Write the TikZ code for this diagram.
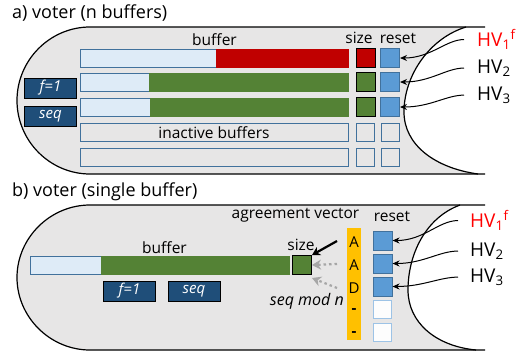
\documentclass[tikz,border=0pt]{standalone}
\usepackage{fontspec}
\setmainfont{Open Sans}
\usetikzlibrary{arrows.meta}
\definecolor{capgray}{HTML}{E7E6E6}
\definecolor{bufblue}{HTML}{DEEBF7}
\definecolor{edgeblue}{HTML}{41719C}
\definecolor{resetblue}{HTML}{5B9BD5}
\definecolor{paleblue}{HTML}{9DC3E6}
\definecolor{tagblue}{HTML}{1F4E79}
\definecolor{fullred}{HTML}{C00000}
\definecolor{hvred}{HTML}{FF0000}
\definecolor{fullgreen}{HTML}{548235}
\definecolor{agreeorange}{HTML}{FFC000}
\tikzset{
	bar/.style={draw=edgeblue, fill=bufblue, line width=1pt, minimum width=268pt, minimum height=18pt, inner sep=0pt, font=\fontsize{15.5}{15.5}\selectfont},
	idlebar/.style={bar, fill=capgray},
	sizebox/.style={draw=black, line width=1pt, minimum size=19pt, inner sep=0pt},
	resetbox/.style={draw=edgeblue, fill=resetblue, line width=1pt, minimum size=19pt, inner sep=0pt},
	idlebox/.style={draw=edgeblue, fill=capgray, line width=1pt, minimum size=18pt, inner sep=0pt},
	tagbox/.style={draw=black, fill=tagblue, text=white, line width=1pt, minimum width=52pt, minimum height=20pt, inner sep=0pt, font=\itshape\fontsize{15}{15}\selectfont},
	lbl/.style={inner sep=0pt, anchor=base, font=\fontsize{15.5}{15.5}\selectfont},
	hv/.style={inner sep=0pt, anchor=base west, font=\fontsize{19}{19}\selectfont},
	hvarrow/.style={-{Stealth[length=7pt,width=6pt]}, line width=1pt, shorten <=13pt},
}
\begin{document}
\begin{tikzpicture}[x=1pt, y=-1pt]
	\useasboundingbox (0,0) rectangle (526,356);
	% a) voter (n buffers)
	\node[inner sep=0pt, anchor=base west, font=\fontsize{18}{18}\selectfont] (titlea) at (12,18.5) {a) voter (n buffers)};
	\fill[capgray] (485,27) -- (90,27) .. controls (50,27) and (17,60) .. (17,100.5) .. controls (17,141) and (50,174) .. (90,174) -- (485,174) -- cycle;
	\fill[white] (466,27) .. controls (430,38) and (404,75) .. (404,112) .. controls (404,145) and (435,168) .. (478,174) -- (490,174) -- (490,27) -- cycle;
	\draw[line width=1.2pt] (485,27) -- (90,27) .. controls (50,27) and (17,60) .. (17,100.5) .. controls (17,141) and (50,174) .. (90,174) -- (485,174);
	\draw[line width=1.2pt] (466,27) .. controls (430,38) and (404,75) .. (404,112) .. controls (404,145) and (435,168) .. (478,174);

	\node[bar] (a1) at (214,58) {};
	\node[bar] (a2) at (214,82) {};
	\node[bar] (a3) at (214,107) {};
	\node[idlebar] (a4) at (214,132.5) {inactive buffers};
	\node[idlebar] (a5) at (214,157) {};
	\fill[fullred] (216,0 |- a1.north) rectangle (a1.south east);
	\fill[fullgreen] (149,0 |- a2.north) rectangle (a2.south east);
	\fill[fullgreen] (150,0 |- a3.north) rectangle (a3.south east);
	\node[lbl] (bufa) at (214.5,45.5) {buffer};

	\node[sizebox, fill=fullred] (sa1) at (365.5,58) {};
	\node[sizebox, fill=fullgreen] (sa2) at (365.5,82) {};
	\node[sizebox, fill=fullgreen] (sa3) at (365.5,107) {};
	\node[idlebox] (sa4) at (365.5,132.5) {};
	\node[idlebox] (sa5) at (365.5,157) {};
	\node[resetbox] (ra1) at (390,58) {};
	\node[resetbox] (ra2) at (390,82) {};
	\node[resetbox] (ra3) at (390,107) {};
	\node[idlebox] (ra4) at (390,132.5) {};
	\node[idlebox] (ra5) at (390,157) {};
	\node[lbl] (sizea) at (359,43) {size};
	\node[lbl] (reseta) at (398,43) {reset};

	\node[tagbox] (fa) at (50.5,88) {f=1};
	\node[tagbox] (seqa) at (50.5,116) {seq};

	\node[hv, text=hvred] (hva1) at (477,46) {HV\textsubscript{1}\textsuperscript{f}};
	\node[hv] (hva2) at (477,73) {HV\textsubscript{2}};
	\node[hv] (hva3) at (477,100) {HV\textsubscript{3}};
	\draw[hvarrow] (hva1.west) to[out=180, in=0] (ra1.east);
	\draw[hvarrow] (hva2.west) to[out=180, in=0] (ra2.east);
	\draw[hvarrow] (hva3.west) to[out=180, in=0] (ra3.east);

	% b) voter (single buffer)
	\node[inner sep=0pt, anchor=base west, font=\fontsize{18}{18}\selectfont] (titleb) at (12,196) {b) voter (single buffer)};
	\fill[capgray] (485,205) -- (90,205) .. controls (50,205) and (17,238) .. (17,277.5) .. controls (17,317) and (50,350) .. (90,350) -- (485,350) -- cycle;
	\fill[white] (460,205) .. controls (425,218) and (408,255) .. (408,290) .. controls (408,322) and (435,346) .. (476,350) -- (490,350) -- (490,205) -- cycle;
	\draw[line width=1.2pt] (485,205) -- (90,205) .. controls (50,205) and (17,238) .. (17,277.5) .. controls (17,317) and (50,350) .. (90,350) -- (485,350);
	\draw[line width=1.2pt] (460,205) .. controls (425,218) and (408,255) .. (408,290) .. controls (408,322) and (435,346) .. (476,350);

	\node[bar, minimum width=259pt] (b1) at (159.5,265.5) {};
	\fill[fullgreen] (101,0 |- b1.north) rectangle (b1.south east);
	\node[lbl] (bufb) at (164.5,253) {buffer};
	\node[sizebox, fill=fullgreen] (sb) at (302,265) {};
	\node[lbl] (sizeb) at (301,250) {size};
	\node[lbl] (agree) at (295.5,218) {agreement vector};

	\node[tagbox] (fb) at (129.5,291) {f=1};
	\node[tagbox] (seqb) at (194,291) {seq};
	\node[lbl, anchor=base east, font=\itshape\fontsize{16}{16}\selectfont] (seqmod) at (344,305) {seq mod n};

	\fill[agreeorange] (347,228) rectangle (361,340);
	\node[lbl, anchor=center, font=\fontsize{15}{15}\selectfont] (v1) at (354,242) {A};
	\node[lbl, anchor=center, font=\fontsize{15}{15}\selectfont] (v2) at (354,265) {A};
	\node[lbl, anchor=center, font=\fontsize{15}{15}\selectfont] (v3) at (354,288) {D};
	\node[lbl, anchor=center, font=\bfseries\fontsize{15}{15}\selectfont] (v4) at (354,311) {-};
	\node[lbl, anchor=center, font=\bfseries\fontsize{15}{15}\selectfont] (v5) at (354,334) {-};

	\coordinate (av) at (337,241);
	\coordinate (sq1) at (337,264);
	\coordinate (sq2) at (337,288);
	\draw[line width=2.2pt, -{Stealth[length=8pt,width=9pt]}] (av) -- (sb.north east);
	\draw[gray!70, line width=2.2pt, dash pattern=on 2.5pt off 3pt, -{Stealth[length=9pt,width=10pt]}] (sq1) -- (sb.east);
	\draw[gray!70, line width=2.2pt, dash pattern=on 2.5pt off 3pt, -{Stealth[length=9pt,width=10pt]}] (sq2) -- ([yshift=-3pt]sb.south east);

	\node[resetbox] (rb1) at (382.5,240.5) {};
	\node[resetbox] (rb2) at (382.5,263.5) {};
	\node[resetbox] (rb3) at (382.5,286.5) {};
	\node[idlebox, draw=paleblue, fill=white!92!capgray] (rb4) at (382.5,309.5) {};
	\node[idlebox, draw=paleblue, fill=white!92!capgray] (rb5) at (382.5,332) {};
	\node[lbl] (resetb) at (392,221) {reset};

	\node[hv, text=hvred] (hvb1) at (470,227) {HV\textsubscript{1}\textsuperscript{f}};
	\node[hv] (hvb2) at (470,256) {HV\textsubscript{2}};
	\node[hv] (hvb3) at (470,282) {HV\textsubscript{3}};
	\draw[hvarrow, shorten <=12pt] (hvb1.west) to[out=180, in=0] (rb1.east);
	\draw[hvarrow, shorten <=12pt] (hvb2.west) to[out=180, in=0] (rb2.east);
	\draw[hvarrow, shorten <=12pt] (hvb3.west) to[out=180, in=0] (rb3.east);
\end{tikzpicture}
\end{document}
